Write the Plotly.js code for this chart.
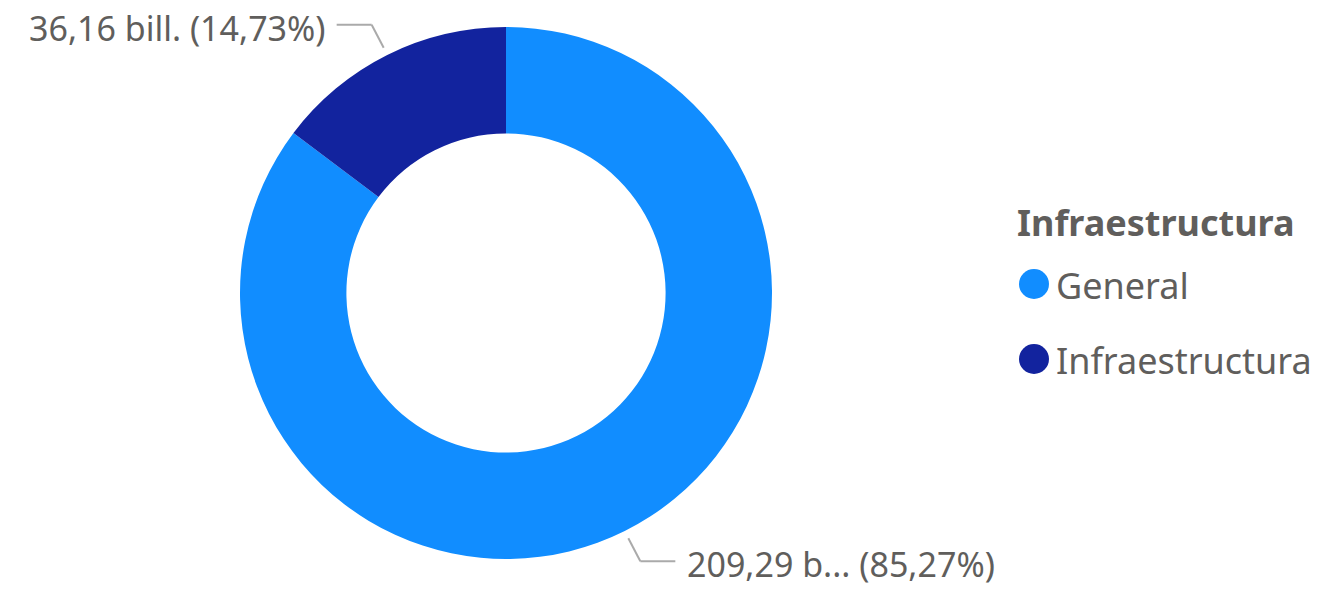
<!DOCTYPE html>
<html>
<head>
<meta charset="utf-8">
<script src="https://cdn.plot.ly/plotly-3.0.1.min.js"></script>
<style>html,body{margin:0;padding:0;background:#fff;}#chart{width:1320px;height:589px;}</style>
</head>
<body>
<div id="chart"></div>
<script>
// ---- data ----
const categories = ["General", "Infraestructura"];
const values = [209.29, 36.16];            // billions
const valueLabels = ["209,29 b...", "36,16 bill."];
const percentLabels = ["85,27%", "14,73%"];
const legendTitle = "Infraestructura";
const colors = ["#118DFF", "#12239E"];

// ---- geometry (pixel layout) ----
const W = 1320, H = 589;
const cx = 506, cy = 293, R = 266, HOLE = 0.6;
const textColor = "#605E5C";
const FONT = "Noto Sans, Open Sans, sans-serif";

const px = x => x / W;
const py = y => 1 - y / H;

const total = values.reduce((a, b) => a + b, 0);
const shapes = [];
const annotations = [];
let acc = 0;
values.forEach((v, i) => {
  const mid = (acc + v / 2) / total;   // fraction, clockwise from 12 o'clock
  acc += v;
  const th = mid * 2 * Math.PI;
  const dx = Math.sin(th), dy = -Math.cos(th);
  const sx = cx + (R + 8) * dx, sy = cy + (R + 8) * dy;
  const hs = dx >= 0 ? 1 : -1, vs = dy >= 0 ? 1 : -1;
  const ex = sx + hs * 12, ey = sy + vs * 23;
  const fx = ex + hs * 35;
  const line = {type: "line", xref: "paper", yref: "paper", line: {color: "#AAAAAA", width: 2}};
  shapes.push(Object.assign({x0: px(sx), y0: py(sy), x1: px(ex), y1: py(ey)}, line));
  shapes.push(Object.assign({x0: px(ex), y0: py(ey), x1: px(fx), y1: py(ey)}, line));
  annotations.push({
    xref: "paper", yref: "paper",
    x: px(fx + hs * 10), y: py(ey + 3),
    xanchor: hs > 0 ? "left" : "right", yanchor: "middle",
    text: valueLabels[i] + " (" + percentLabels[i] + ")",
    showarrow: false,
    font: {family: FONT, size: 34, color: textColor}
  });
});

// ---- legend (drawn manually to get large round symbols) ----
const legX = 1015, legTitleY = 222, legFirstY = 284, legStep = 75, legR = 15;
annotations.push({
  xref: "paper", yref: "paper", x: px(legX), y: py(legTitleY),
  xanchor: "left", yanchor: "middle", showarrow: false,
  text: "<b>" + legendTitle + "</b>",
  font: {family: FONT, size: 36, color: textColor}
});
categories.forEach((c, i) => {
  const yc = legFirstY + i * legStep;
  const ccx = legX + 19;
  shapes.push({
    type: "circle", xref: "paper", yref: "paper",
    x0: px(ccx - legR), x1: px(ccx + legR), y0: py(yc + legR), y1: py(yc - legR),
    fillcolor: colors[i], line: {width: 0}
  });
  annotations.push({
    xref: "paper", yref: "paper", x: px(legX + 39), y: py(yc + 1),
    xanchor: "left", yanchor: "middle", showarrow: false,
    text: c,
    font: {family: FONT, size: 36, color: textColor}
  });
});

const pie = {
  type: "pie",
  labels: categories,
  values: values,
  hole: HOLE,
  sort: false,
  direction: "clockwise",
  rotation: 0,
  textinfo: "none",
  showlegend: false,
  marker: {colors: colors, line: {width: 0}},
  domain: {x: [px(cx - R), px(cx + R)], y: [py(cy + R), py(cy - R)]}
};

const layout = {
  width: W, height: H,
  margin: {l: 0, r: 0, t: 0, b: 0},
  paper_bgcolor: "#fff",
  showlegend: false,
  shapes: shapes,
  annotations: annotations
};

Plotly.newPlot("chart", [pie], layout, {displayModeBar: false, staticPlot: true});
</script>
</body>
</html>
